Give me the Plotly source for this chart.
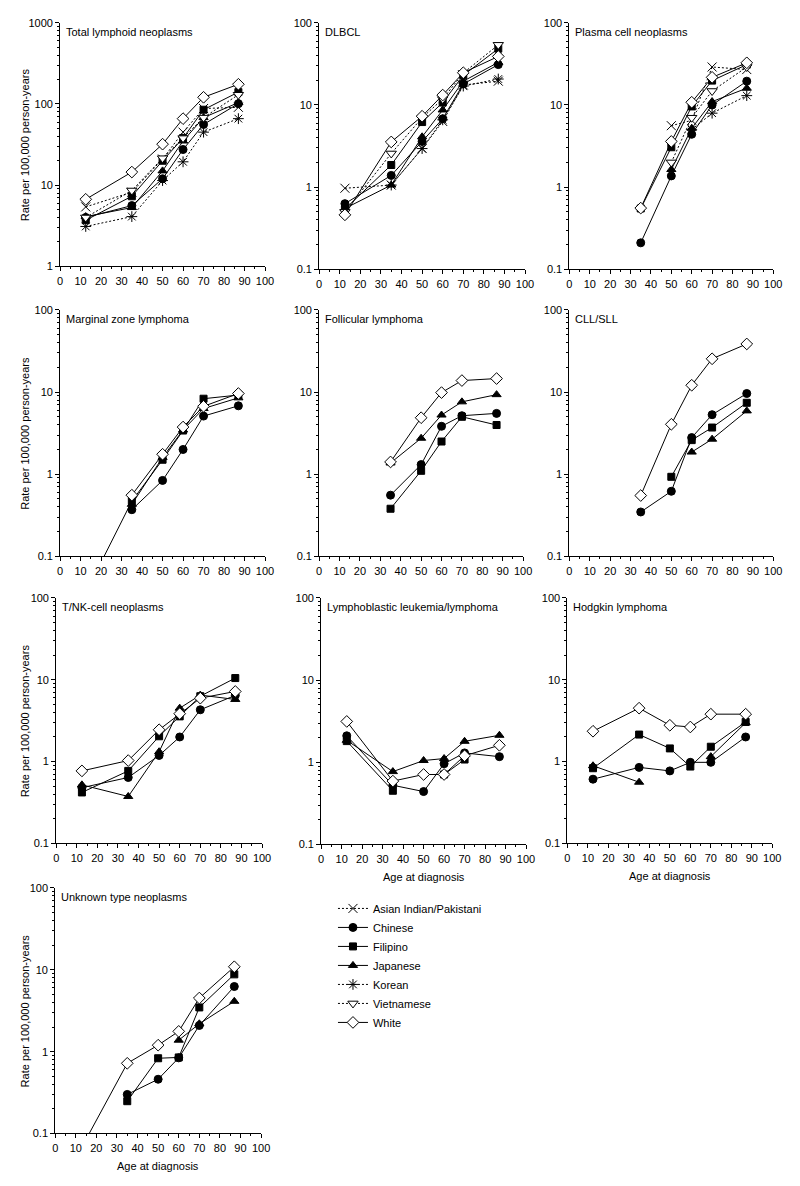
import plotly.graph_objects as go

AGES = [12.5, 35, 50, 60, 70, 87]
SERIES = ["Asian Indian/Pakistani", "Chinese", "Filipino", "Japanese", "Korean", "Vietnamese", "White"]

# ---- data (rate per 100,000 person-years), None = not shown ----
total_ai = [5.4, 8.2, 21, 45, 88, 91]
total_ch = [4.0, 5.6, 12, 27.5, 56, 101]
total_fi = [3.7, 7.3, 20, 38, 85, 140]
total_ja = [4.1, 5.3, 15, 35, 68, 104]
total_ko = [3.1, 4.1, 11.4, 19.4, 45, 66]
total_vi = [4.0, 8.6, 21.5, 38, 68, 130]
total_wh = [6.7, 14.5, 32, 66, 121, 175]

dlbcl_ai = [0.97, 1.06, 2.95, 6.3, 17.5, 19.5]
dlbcl_ch = [0.63, 1.39, 3.6, 6.8, 18, 31]
dlbcl_fi = [0.54, 1.86, 6.2, 10.7, 23, 48.5]
dlbcl_ja = [0.55, 1.06, 4.1, 8.7, 19.5, 33]
dlbcl_ko = [None, 1.06, 2.95, 6.6, 17, 20.7]
dlbcl_vi = [0.5, 2.57, 7.0, 11.8, 24.5, 54]
dlbcl_wh = [0.46, 3.55, 7.3, 13.2, 24.7, 39]

plasma_ai = [None, None, 5.6, 6.5, 29, 27]
plasma_ch = [None, 0.21, 1.37, 4.4, 10, 19.5]
plasma_fi = [None, 0.55, 3.06, 9.6, 19.8, 31]
plasma_ja = [None, None, 1.64, 5.2, 11, 16]
plasma_ko = [None, None, None, 5.0, 7.95, 13]
plasma_vi = [None, None, 2.0, 7.0, 14.8, 29]
plasma_wh = [None, 0.556, 3.6, 10.8, 21.7, 32.6]

mzl_ch = [None, 0.37, 0.84, 2.0, 5.1, 6.8]
mzl_fi = [0.036, 0.47, 1.5, 3.4, 8.3, 9.2]
mzl_ja = [None, 0.43, 1.6, 3.45, 6.3, 8.5]
mzl_wh = [None, 0.556, 1.75, 3.75, 6.7, 9.6]

fl_ch = [None, 0.556, 1.31, 3.83, 5.15, 5.5]
fl_fi = [None, 0.38, 1.10, 2.5, 5.0, 3.97]
fl_ja = [None, 1.37, 2.74, 5.25, 7.6, 9.3]
fl_wh = [None, 1.41, 4.87, 9.85, 13.8, 14.6]

cll_ch = [None, 0.347, 0.62, 2.79, 5.3, 9.6]
cll_fi = [None, None, 0.93, 2.6, 3.7, 7.4]
cll_ja = [None, None, None, 1.86, 2.67, 5.9]
cll_wh = [None, 0.55, 4.05, 12.1, 25.4, 38.5]

tnk_ch = [0.48, 0.64, 1.19, 2.0, 4.3, 6.45]
tnk_fi = [0.42, 0.77, 2.04, 3.57, 6.3, 10.5]
tnk_ja = [0.52, 0.375, 1.32, 4.5, 6.5, 5.75]
tnk_wh = [0.77, 1.03, 2.45, 3.85, 5.96, 7.2]

lbl_ch = [2.1, 0.525, 0.44, 0.96, 1.3, 1.17]
lbl_fi = [1.81, 0.45, None, 0.71, 1.08, None]
lbl_ja = [1.85, 0.77, 1.05, 1.11, 1.8, 2.13]
lbl_wh = [3.14, 0.59, 0.71, 0.71, 1.2, 1.61]

hl_ch = [0.61, 0.85, 0.77, 0.98, 0.98, 2.0]
hl_fi = [0.83, 2.14, 1.45, 0.87, 1.52, 3.05]
hl_ja = [0.89, 0.56, None, None, 1.15, 2.98]
hl_wh = [2.35, 4.5, 2.78, 2.65, 3.8, 3.8]

unk_ch = [None, 0.3, 0.46, 0.84, 2.09, 6.25]
unk_fi = [None, 0.248, 0.83, 0.85, 3.47, 8.8]
unk_ja = [None, None, None, 1.38, 2.19, 4.12]
unk_wh = [0.065, 0.72, 1.2, 1.77, 4.52, 10.9]

PANEL_TITLES = ["Total lymphoid neoplasms", "DLBCL", "Plasma cell neoplasms",
                "Marginal zone lymphoma", "Follicular lymphoma", "CLL/SLL",
                "T/NK-cell neoplasms", "Lymphoblastic leukemia/lymphoma", "Hodgkin lymphoma",
                "Unknown type neoplasms"]

PANELS = [
    {"Asian Indian/Pakistani": total_ai, "Chinese": total_ch, "Filipino": total_fi, "Japanese": total_ja,
     "Korean": total_ko, "Vietnamese": total_vi, "White": total_wh},
    {"Asian Indian/Pakistani": dlbcl_ai, "Chinese": dlbcl_ch, "Filipino": dlbcl_fi, "Japanese": dlbcl_ja,
     "Korean": dlbcl_ko, "Vietnamese": dlbcl_vi, "White": dlbcl_wh},
    {"Asian Indian/Pakistani": plasma_ai, "Chinese": plasma_ch, "Filipino": plasma_fi, "Japanese": plasma_ja,
     "Korean": plasma_ko, "Vietnamese": plasma_vi, "White": plasma_wh},
    {"Chinese": mzl_ch, "Filipino": mzl_fi, "Japanese": mzl_ja, "White": mzl_wh},
    {"Chinese": fl_ch, "Filipino": fl_fi, "Japanese": fl_ja, "White": fl_wh},
    {"Chinese": cll_ch, "Filipino": cll_fi, "Japanese": cll_ja, "White": cll_wh},
    {"Chinese": tnk_ch, "Filipino": tnk_fi, "Japanese": tnk_ja, "White": tnk_wh},
    {"Chinese": lbl_ch, "Filipino": lbl_fi, "Japanese": lbl_ja, "White": lbl_wh},
    {"Chinese": hl_ch, "Filipino": hl_fi, "Japanese": hl_ja, "White": hl_wh},
    {"Chinese": unk_ch, "Filipino": unk_fi, "Japanese": unk_ja, "White": unk_wh},
]

# ---- styles ----
DOT = "2px,2px"
STYLE = {
    "Asian Indian/Pakistani": dict(symbol="x-thin-open", fill="black", dash=DOT, size=9),
    "Chinese": dict(symbol="circle", fill="black", dash="solid", size=8),
    "Filipino": dict(symbol="square", fill="black", dash="solid", size=7),
    "Japanese": dict(symbol="triangle-up", fill="black", dash="solid", size=8),
    "Korean": dict(symbol="asterisk-open", fill="black", dash=DOT, size=9),
    "Vietnamese": dict(symbol="triangle-down", fill="white", dash=DOT, size=9),
    "White": dict(symbol="diamond", fill="white", dash="solid", size=9),
}

W, H = 800, 1186
# plot area boxes in pixels: (left, right, top, bottom)
BOXES = [
    (58, 266, 17, 263), (321, 530, 17, 266), (575, 782, 17, 266),
    (58, 266, 307, 556), (321, 528, 307, 556), (575, 782, 307, 556),
    (54, 263, 598, 846), (323, 531, 598, 847), (573, 781, 598, 846),
    (53, 262, 891, 1139),
]
YRANGES = [(0, 3)] + [(-1, 2)] * 9
YLABEL_PANELS = [0, 3, 6, 9]
XLABEL_PANELS = [7, 8, 9]

FONT = "Liberation Sans, Arial, sans-serif"

fig = go.Figure()
layout = {}
annotations = []

for i, (box, data, title, yr) in enumerate(zip(BOXES, PANELS, PANEL_TITLES, YRANGES)):
    n = i + 1
    xa = "x" if n == 1 else f"x{n}"
    ya = "y" if n == 1 else f"y{n}"
    l, r, t, b = box
    for name in SERIES:
        if name not in data:
            continue
        st = STYLE[name]
        fig.add_trace(go.Scatter(
            x=AGES, y=data[name], mode="lines+markers", name=name,
            legendgroup=name, showlegend=(i == 0),
            line=dict(color="black", width=1, dash=st["dash"]),
            marker=dict(symbol=st["symbol"], size=st["size"], color=st["fill"],
                        line=dict(color="black", width=1)),
            xaxis=xa, yaxis=ya, cliponaxis=True,
        ))
    lo, hi = yr
    decades = [10 ** k for k in range(lo, hi + 1)]
    dec_text = ["0.1" if d < 1 else str(int(d)) for d in decades]
    minors = [m * 10 ** k for k in range(lo, hi) for m in range(2, 10)]
    layout["xaxis" if n == 1 else f"xaxis{n}"] = dict(
        domain=[l / W, r / W], anchor=ya, range=[0, 100], tick0=0, dtick=10,
        ticks="outside", ticklen=4, tickwidth=1, tickcolor="black",
        showline=True, linecolor="black", linewidth=1, showgrid=False, zeroline=False,
        minor=dict(dtick=5, tick0=0, ticks="outside", ticklen=2, tickcolor="black", showgrid=False),
        tickfont=dict(family=FONT, size=11, color="black"),
    )
    layout["yaxis" if n == 1 else f"yaxis{n}"] = dict(
        domain=[1 - b / H, 1 - t / H], anchor=xa, type="log", range=[lo, hi],
        tickmode="array", tickvals=decades, ticktext=dec_text,
        ticks="outside", ticklen=4, tickwidth=1, tickcolor="black",
        showline=True, linecolor="black", linewidth=1, showgrid=False, zeroline=False,
        minor=dict(tickvals=minors, ticks="outside", ticklen=2, tickcolor="black", showgrid=False),
        tickfont=dict(family=FONT, size=11, color="black"),
    )
    annotations.append(dict(
        text=title, xref="paper", yref="paper", x=(l + 4) / W, y=1 - (t + 1) / H,
        xanchor="left", yanchor="top", showarrow=False,
        font=dict(family=FONT, size=11, color="black"),
    ))
    if i in YLABEL_PANELS:
        annotations.append(dict(
            text="Rate per 100,000 person-years", xref="paper", yref="paper",
            x=22 / W, y=1 - ((t + b) / 2) / H, xanchor="center", yanchor="middle",
            textangle=-90, showarrow=False, font=dict(family=FONT, size=11, color="black"),
        ))
    if i in XLABEL_PANELS:
        annotations.append(dict(
            text="Age at diagnosis", xref="paper", yref="paper",
            x=((l + r) / 2) / W, y=1 - (b + 33) / H, xanchor="center", yanchor="middle",
            showarrow=False, font=dict(family=FONT, size=11, color="black"),
        ))

fig.update_layout(
    **layout,
    annotations=annotations,
    width=W, height=H, margin=dict(l=0, r=0, t=0, b=0),
    paper_bgcolor="white", plot_bgcolor="white",
    showlegend=True,
    legend=dict(x=335 / W, y=1 - 897 / H, xanchor="left", yanchor="top",
                font=dict(family=FONT, size=11, color="black"),
                bgcolor="rgba(0,0,0,0)", tracegroupgap=0, itemwidth=30),
    font=dict(family=FONT, size=11, color="black"),
)

fig.write_html("out.html", config={"displayModeBar": False},
               post_script="document.body.style.margin='0';document.body.style.overflow='hidden';")
